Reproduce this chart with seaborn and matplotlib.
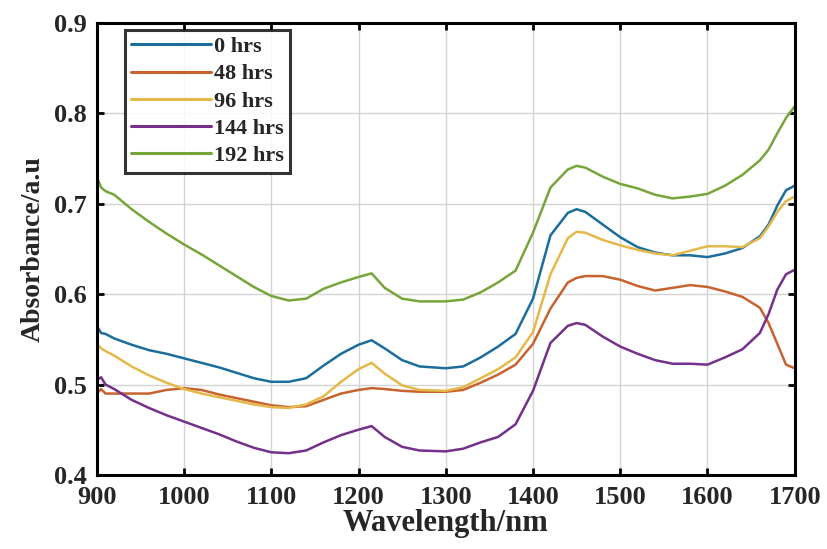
import matplotlib
matplotlib.use("Agg")
import matplotlib.pyplot as plt
import numpy as np
import pandas as pd
import seaborn as sns

# wavelength grid (nm)
wavelength = [900, 905, 910, 920, 940, 960, 980, 1000, 1020, 1040, 1060, 1080,
              1100, 1120, 1140, 1160, 1180, 1200, 1215, 1230, 1250, 1270, 1300,
              1320, 1340, 1360, 1380, 1400, 1420, 1440, 1450, 1460, 1480, 1500,
              1520, 1540, 1560, 1580, 1600, 1620, 1640, 1660, 1670, 1680, 1690, 1700]

hrs_0 = [.565, .557, .556, .551, .544, .538, .534, .529, .524, .519, .513, .507,
         .503, .503, .507, .521, .534, .544, .549, .540, .527, .520, .518,
         .520, .530, .542, .556, .595, .665, .690, .694, .691, .677, .663,
         .652, .646, .643, .643, .641, .645, .651, .664, .677, .698, .715, .720]

hrs_48 = [.490, .495, .490, .490, .490, .490, .494, .496, .494, .489, .485, .481,
          .477, .475, .476, .483, .490, .494, .496, .495, .493, .492, .492,
          .494, .502, .511, .522, .545, .584, .613, .618, .620, .620, .616,
          .609, .604, .607, .610, .608, .603, .597, .585, .568, .545, .522, .518]

hrs_96 = [.545, .540, .537, .532, .520, .510, .502, .495, .490, .486, .482, .478,
          .475, .474, .478, .487, .503, .517, .524, .512, .499, .494, .493,
          .497, .507, .517, .530, .558, .622, .662, .669, .668, .660, .654,
          .649, .645, .643, .648, .653, .653, .652, .662, .675, .691, .703, .708]

hrs_144 = [.505, .508, .500, .495, .483, .474, .466, .459, .452, .445, .437, .430,
           .425, .424, .427, .436, .444, .450, .454, .442, .431, .427, .426,
           .429, .436, .442, .456, .493, .546, .565, .568, .566, .553, .542,
           .534, .527, .523, .523, .522, .530, .539, .557, .578, .605, .622, .627]

hrs_192 = [.730, .718, .714, .710, .694, .680, .667, .655, .644, .632, .620, .608,
           .598, .593, .595, .606, .613, .619, .623, .607, .595, .592, .592,
           .594, .602, .613, .626, .668, .718, .738, .742, .740, .730, .722,
           .717, .710, .706, .708, .711, .720, .732, .748, .760, .778, .795, .808]

labels = ["0 hrs", "48 hrs", "96 hrs", "144 hrs", "192 hrs"]
colors = ["#1b6e9c", "#c8622e", "#e4b84a", "#74308a", "#76a53a"]

frames = []
for name, vals in zip(labels, [hrs_0, hrs_48, hrs_96, hrs_144, hrs_192]):
    frames.append(pd.DataFrame({"wavelength": wavelength, "absorbance": vals, "series": name}))
df = pd.concat(frames, ignore_index=True)

sns.set_theme(style="white")
plt.rcParams["font.family"] = ["Liberation Serif", "DejaVu Serif"]
plt.rcParams["font.weight"] = "bold"

fig = plt.figure(figsize=(8.27, 5.49), dpi=100)
ax = fig.add_axes([0.117, 0.135, 0.844, 0.823])

sns.lineplot(data=df, x="wavelength", y="absorbance", hue="series",
             hue_order=labels, palette=colors, linewidth=1.8, ax=ax,
             estimator=None, sort=False)

ax.set_xlim(900, 1700)
ax.set_ylim(0.4, 0.9)
ax.set_xticks(np.arange(900, 1701, 100))
ax.set_yticks([0.4, 0.5, 0.6, 0.7, 0.8, 0.9])
ax.set_yticklabels(["0.4", "0.5", "0.6", "0.7", "0.8", "0.9"])
ax.grid(True, color="#d4d4d4", linewidth=1.0)
ax.set_axisbelow(True)

for spine in ax.spines.values():
    spine.set_color("black")
    spine.set_linewidth(2.2)

ax.tick_params(axis="both", direction="in", length=5, width=2, color="black",
               top=True, right=True, bottom=True, left=True)
ax.tick_params(axis="x", labelsize=19, pad=8)
ax.tick_params(axis="y", labelsize=19, pad=7)
for lbl in ax.get_xticklabels() + ax.get_yticklabels():
    lbl.set_fontweight("bold")

ax.set_xlabel("Wavelength/nm", fontsize=22, fontweight="bold", labelpad=0)
ax.set_ylabel("Absorbance/a.u", fontsize=20, fontweight="bold", labelpad=6)

leg = ax.legend(loc="upper left", bbox_to_anchor=(0.04, 0.985), borderaxespad=0,
                handlelength=3.6, handletextpad=0.1,
                labelspacing=0.3, borderpad=0.3, frameon=True, fancybox=False,
                prop={"weight": "bold", "size": 16})
leg.get_frame().set_edgecolor("black")
leg.get_frame().set_linewidth(2.2)
for line in leg.get_lines():
    line.set_linewidth(2.2)

fig.savefig("out.png", dpi=100)
